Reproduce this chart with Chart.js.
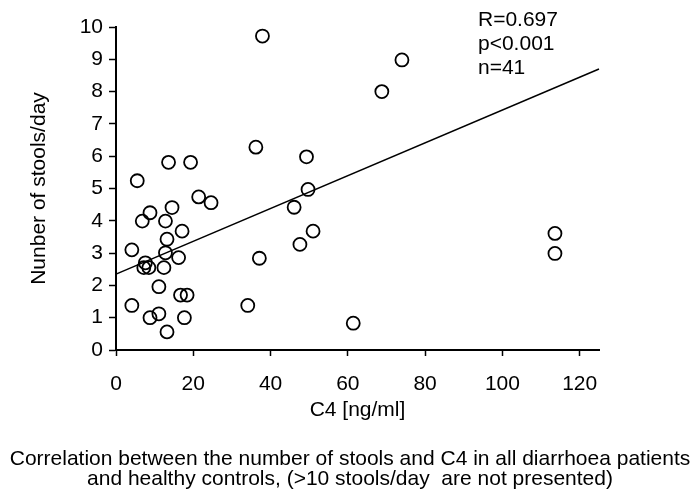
<!DOCTYPE html>
<html>
<head>
<meta charset="utf-8">
<script src="https://cdn.jsdelivr.net/npm/chart.js@4"></script>
<style>
  html, body { margin: 0; padding: 0; background: #fff; }
  canvas { display: block; }
</style>
</head>
<body>
<canvas id="c" width="700" height="498"></canvas>
<script>
// ---- data ----
const c4Values = [37.9, 36.2, 13.6, 19.3, 5.5, 21.4, 24.6, 8.8, 6.8, 14.5,
                  12.8, 17.1, 13.2, 4.1, 12.8, 16.2, 7.6, 7.2, 8.5, 12.4,
                  11.1, 16.7, 18.4, 4.1, 34.1, 11.1, 8.8, 17.7, 13.2, 37.1,
                  46.1, 47.6, 49.7, 51.0, 61.4, 74.0, 68.8, 49.3, 113.6, 113.6];
const stoolValues = [9.72, 6.28, 5.81, 5.81, 5.24, 4.74, 4.56, 4.25, 3.99, 4.41,
                     3.99, 3.68, 3.43, 3.10, 3.01, 2.86, 2.70, 2.55, 2.55, 2.55,
                     1.96, 1.70, 1.70, 1.38, 1.38, 1.12, 1.00, 1.00, 0.56, 2.84,
                     4.42, 3.27, 4.97, 3.68, 0.83, 8.98, 8.00, 5.98, 3.61, 2.99];
const fitX = [0, 125];
const fitY = [2.35, 8.70];
const xTicks = [0, 20, 40, 60, 80, 100, 120];
const yTicks = [0, 1, 2, 3, 4, 5, 6, 7, 8, 9, 10];
const statsLines = ['R=0.697', 'p<0.001', 'n=41'];
const xTitle = 'C4 [ng/ml]';
const yTitle = 'Nunber of stools/day';
const captionLines = ['Correlation between the number of stools and C4 in all diarrhoea patients',
                      'and healthy controls, (>10 stools/day  are not presented)'];

const FONT = '"Liberation Sans", Arial, sans-serif';
const FS = 21;

const textPlugin = {
  id: 'texts',
  afterDraw(chart) {
    const ctx = chart.ctx;
    ctx.save();
    ctx.fillStyle = '#000';
    ctx.font = FS + 'px ' + FONT;
    ctx.textAlign = 'left';
    ctx.textBaseline = 'alphabetic';
    statsLines.forEach((t, i) => ctx.fillText(t, 478, 26 + i * 24));
    ctx.textAlign = 'center';
    captionLines.forEach((t, i) => ctx.fillText(t, 350, 465 + i * 20));
    ctx.restore();
  }
};

new Chart(document.getElementById('c'), {
  type: 'scatter',
  data: {
    datasets: [
      {
        data: c4Values.map((x, i) => ({ x: x, y: stoolValues[i] })),
        pointStyle: 'circle',
        pointRadius: 6.5,
        pointBorderWidth: 1.8,
        borderColor: '#000',
        backgroundColor: 'rgba(0,0,0,0)',
        showLine: false,
        clip: false
      },
      {
        type: 'line',
        data: fitX.map((x, i) => ({ x: x, y: fitY[i] })),
        borderColor: '#000',
        borderWidth: 1.5,
        pointRadius: 0,
        fill: false,
        clip: false
      }
    ]
  },
  options: {
    responsive: false,
    animation: false,
    devicePixelRatio: 1,
    layout: { padding: { left: 0, top: 27, right: 101, bottom: 70 } },
    plugins: { legend: { display: false }, tooltip: { enabled: false } },
    scales: {
      x: {
        type: 'linear',
        min: 0, max: 125,
        afterBuildTicks: s => { s.ticks = xTicks.map(v => ({ value: v })); },
        afterFit: s => { s.height = 78; },
        border: { display: true, color: '#000', width: 2 },
        grid: { drawOnChartArea: false, drawTicks: true, tickLength: 6, tickColor: '#000', tickWidth: 1.5 },
        ticks: { color: '#000', font: { family: FONT, size: FS }, padding: 16, maxRotation: 0 },
        title: { display: true, text: xTitle, color: '#000', font: { family: FONT, size: FS }, padding: { top: 0, bottom: 5 } }
      },
      y: {
        type: 'linear',
        min: 0, max: 10,
        afterBuildTicks: s => { s.ticks = yTicks.map(v => ({ value: v })); },
        afterFit: s => { s.width = 116; },
        border: { display: true, color: '#000', width: 2 },
        grid: { drawOnChartArea: false, drawTicks: true, tickLength: 7, tickColor: '#000', tickWidth: 1.5 },
        ticks: { color: '#000', font: { family: FONT, size: FS }, padding: 6 },
        title: { display: true, text: yTitle, color: '#000', font: { family: FONT, size: FS }, padding: { top: 27, bottom: 0 } }
      }
    }
  },
  plugins: [textPlugin]
});
</script>
</body>
</html>
